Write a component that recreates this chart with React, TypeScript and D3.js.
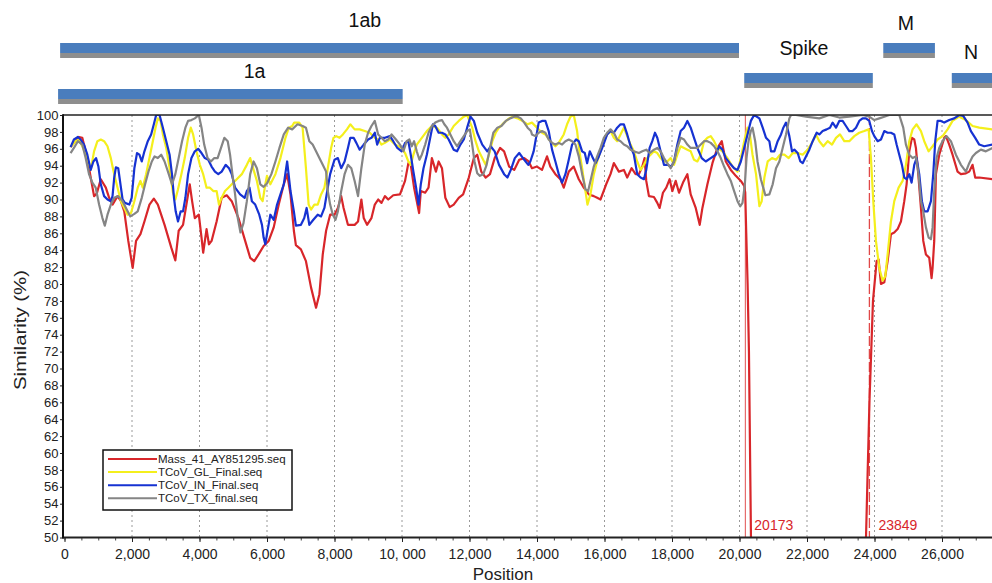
import React, { useEffect, useRef } from "react";
import * as d3 from "d3";

// similarity (%) by genome position
const mass41 = [[180,96.2],[430,97.4],[527,97.3],[677,94.9],[776,92.6],[876,90.4],[955,90.7],[1075,92.4],[1224,91.4],[1323,90.2],[1423,89.4],[1572,90.4],[1672,89.8],[1771,88.6],[1890,85.1],[2020,81.9],[2120,85.1],[2250,85.9],[2368,87.4],[2517,89.4],[2647,90.1],[2766,89.4],[2965,87.0],[3164,84.3],[3284,82.8],[3383,86.3],[3512,87.0],[3612,89.4],[3711,91.8],[3781,89.8],[3861,87.8],[3980,88.2],[4060,85.5],[4109,83.7],[4209,86.5],[4279,84.7],[4358,85.1],[4507,87.4],[4657,90.2],[4806,90.5],[4955,89.8],[5154,87.8],[5353,85.1],[5502,83.1],[5622,82.7],[5751,83.5],[5900,84.5],[6050,85.1],[6199,86.7],[6348,89.4],[6497,91.8],[6597,93.0],[6696,90.6],[6796,86.3],[6856,84.6],[7005,84.1],[7154,82.7],[7304,79.6],[7453,77.2],[7552,78.8],[7652,83.5],[7751,86.3],[7871,88.2],[8000,88.2],[8100,89.0],[8199,90.4],[8269,89.0],[8398,87.0],[8597,87.0],[8697,87.4],[8796,90.0],[8866,87.8],[8965,87.0],[9095,87.8],[9194,89.4],[9294,90.0],[9393,89.6],[9493,90.4],[9592,90.0],[9741,90.5],[9940,90.6],[10090,92.2],[10189,94.3],[10259,94.1],[10358,91.4],[10438,89.8],[10507,88.4],[10557,91.0],[10686,90.8],[10786,91.4],[10885,94.9],[11005,93.3],[11085,94.5],[11184,93.7],[11284,90.2],[11413,89.1],[11532,89.4],[11681,90.2],[11811,90.6],[11980,92.6],[12129,94.9],[12229,95.3],[12348,93.3],[12478,92.6],[12607,93.0],[12746,94.9],[12905,96.1],[13025,95.7],[13174,93.9],[13324,93.5],[13473,94.7],[13622,94.9],[13752,94.5],[13851,93.7],[14000,93.9],[14149,93.5],[14297,95.1],[14396,93.9],[14545,93.0],[14693,92.4],[14792,91.4],[14941,93.3],[15089,93.9],[15238,92.4],[15386,91.4],[15535,90.6],[15683,90.4],[15782,90.2],[15881,90.0],[16050,91.8],[16178,93.0],[16277,94.3],[16426,93.3],[16574,93.5],[16673,92.6],[16802,93.7],[16921,93.0],[17020,93.0],[17119,93.9],[17188,94.9],[17237,92.2],[17317,90.4],[17465,90.3],[17564,89.6],[17633,89.0],[17732,90.8],[17831,91.4],[17930,92.4],[18010,91.0],[18109,92.2],[18208,90.8],[18326,92.0],[18455,93.0],[18554,90.6],[18703,89.0],[18821,87.0],[18901,89.0],[19049,91.8],[19198,94.3],[19346,96.1],[19475,96.9],[19594,94.5],[19743,93.5],[19891,92.8],[20040,92.2],[20139,91.6],[20170,90.8],[20200,86.0],[20240,80.0],[20280,72.0],[20340,50.0],[20400,42.0],[23700,42.0],[23748,50.0],[23850,66.0],[23955,78.0],[24063,82.7],[24122,82.9],[24191,80.0],[24290,80.2],[24389,82.7],[24487,85.9],[24586,86.1],[24685,86.5],[24783,87.4],[24882,89.8],[24951,91.8],[25030,95.7],[25109,97.3],[25178,97.1],[25227,96.1],[25297,93.0],[25376,89.0],[25445,85.1],[25524,83.5],[25622,83.1],[25691,80.7],[25721,81.9],[25770,85.1],[25820,93.0],[25918,95.3],[26066,97.3],[26116,97.5],[26214,96.5],[26313,95.3],[26461,93.3],[26560,93.0],[26708,93.1],[26807,93.3],[26906,94.1],[26984,92.6],[27103,92.6],[27498,92.4]];

const tcovGL = [[180,96.2],[328,96.9],[428,97.1],[527,96.3],[677,94.9],[776,93.5],[876,95.7],[975,96.9],[1075,97.1],[1174,96.9],[1274,96.3],[1373,94.9],[1423,93.9],[1473,93.0],[1572,91.4],[1672,89.8],[1771,89.0],[1870,88.2],[1970,88.4],[2070,89.8],[2169,91.4],[2249,92.2],[2318,91.4],[2418,93.0],[2517,94.9],[2617,96.9],[2697,98.5],[2766,99.6],[2846,99.3],[2915,97.7],[3015,96.1],[3114,93.7],[3214,90.8],[3284,90.0],[3363,91.2],[3463,93.0],[3562,94.9],[3662,97.3],[3741,98.5],[3811,97.7],[3910,95.7],[4010,94.1],[4109,93.0],[4209,91.4],[4308,91.4],[4408,91.0],[4507,91.0],[4577,89.4],[4657,90.2],[4756,91.0],[4856,91.4],[4955,91.8],[5104,92.4],[5254,93.0],[5403,94.1],[5502,94.9],[5602,93.5],[5701,92.2],[5801,90.2],[5871,89.8],[5950,91.8],[6000,92.8],[6099,91.8],[6249,93.0],[6398,94.9],[6547,97.3],[6647,98.5],[6746,98.7],[6806,99.1],[6955,99.1],[7055,98.5],[7154,93.7],[7234,89.4],[7304,88.8],[7403,89.4],[7503,89.4],[7602,90.6],[7701,91.4],[7801,93.7],[7900,96.1],[7970,97.3],[8050,97.5],[8149,97.3],[8249,97.7],[8368,98.3],[8468,98.9],[8597,98.3],[8746,98.3],[8896,98.1],[9045,97.9],[9194,97.3],[9294,97.1],[9393,96.5],[9493,96.7],[9642,97.1],[9791,96.5],[9890,96.3],[9990,96.1],[10090,95.5],[10189,94.5],[10259,94.1],[10338,95.3],[10438,96.5],[10587,97.3],[10736,98.1],[10885,98.7],[11035,98.5],[11184,97.7],[11284,97.3],[11383,97.7],[11532,98.7],[11681,99.3],[11831,99.8],[11930,100],[12080,98.5],[12179,96.9],[12278,95.7],[12378,94.9],[12478,94.1],[12577,95.3],[12677,96.9],[12776,97.9],[12875,98.5],[13025,99.1],[13174,99.6],[13274,99.8],[13423,99.6],[13572,99.3],[13721,98.9],[13851,99.1],[14000,98.5],[14149,97.9],[14248,97.7],[14396,96.9],[14545,96.3],[14644,96.7],[14792,97.7],[14891,98.9],[14990,99.8],[15089,100],[15188,98.1],[15257,95.7],[15337,93.7],[15436,91.0],[15495,89.4],[15584,90.6],[15683,93.0],[15782,94.5],[15881,95.7],[15980,96.9],[16079,97.7],[16178,98.1],[16277,97.3],[16376,96.9],[16475,97.7],[16574,98.5],[16673,97.5],[16772,96.5],[16871,95.7],[16970,94.5],[17069,93.5],[17168,94.1],[17267,94.9],[17366,95.3],[17465,95.7],[17564,95.5],[17663,94.9],[17762,94.5],[17861,94.5],[17960,94.9],[18059,94.1],[18158,95.3],[18257,96.3],[18356,96.1],[18455,95.9],[18554,95.7],[18653,94.7],[18752,94.5],[18851,95.3],[18950,96.9],[19049,97.3],[19148,97.5],[19247,96.9],[19346,96.1],[19495,95.7],[19643,94.9],[19792,93.9],[19941,93.3],[20040,94.9],[20139,96.9],[20237,98.5],[20307,97.7],[20386,95.3],[20490,93.0],[20589,89.2],[20658,89.8],[20737,92.6],[20835,94.5],[20964,94.9],[21082,94.7],[21201,95.3],[21329,95.3],[21457,94.9],[21576,95.5],[21724,95.5],[21872,95.3],[22020,95.9],[22148,96.7],[22266,97.7],[22365,96.9],[22484,96.3],[22612,96.9],[22740,96.5],[22859,97.3],[22977,97.7],[23105,96.9],[23253,96.9],[23401,97.5],[23549,97.9],[23697,98.1],[23826,98.3],[23895,94.9],[23964,89.8],[24043,85.1],[24142,81.9],[24240,80.4],[24319,80.9],[24389,83.5],[24487,87.4],[24586,89.8],[24714,91.4],[24833,92.2],[24931,94.1],[25030,96.9],[25129,98.3],[25247,98.9],[25376,98.1],[25474,96.9],[25603,95.7],[25721,96.3],[25869,97.1],[26017,97.5],[26165,98.3],[26313,99.3],[26510,99.8],[26708,99.4],[26906,98.7],[27103,98.5],[27498,98.3]];

const tcovIN = [[180,96.2],[279,97.1],[398,97.4],[478,97.1],[577,96.5],[677,95.3],[776,93.5],[856,94.5],[935,94.9],[1005,93.9],[1075,91.8],[1174,90.4],[1274,90.0],[1373,89.8],[1423,90.4],[1473,92.6],[1522,93.8],[1592,93.7],[1672,91.4],[1721,90.0],[1791,89.6],[1920,89.4],[1990,90.2],[2070,93.7],[2149,95.5],[2219,95.3],[2289,94.5],[2368,95.7],[2468,96.9],[2567,97.7],[2647,98.9],[2716,100],[2816,100],[2915,98.5],[3015,96.9],[3114,95.3],[3184,93.0],[3244,90.2],[3294,88.6],[3363,87.4],[3443,88.6],[3512,88.6],[3582,90.2],[3662,93.0],[3761,94.9],[3861,95.7],[3960,96.0],[4060,95.5],[4159,94.9],[4259,94.7],[4358,93.9],[4458,93.3],[4557,93.0],[4657,93.3],[4776,94.1],[4875,93.7],[4955,93.0],[5055,91.4],[5204,90.6],[5338,90.2],[5403,91.0],[5482,91.4],[5552,89.8],[5651,89.4],[5771,88.2],[5851,87.0],[5900,85.5],[5950,84.7],[6000,85.9],[6099,88.2],[6199,87.6],[6298,89.4],[6398,90.6],[6497,91.8],[6597,94.5],[6696,91.0],[6796,88.6],[6856,86.9],[7005,87.0],[7104,87.8],[7174,89.0],[7254,87.0],[7373,87.6],[7503,88.2],[7602,88.0],[7701,89.0],[7801,91.4],[7871,93.0],[8000,94.7],[8100,94.9],[8199,93.7],[8299,94.5],[8398,96.1],[8468,97.3],[8567,97.3],[8647,96.7],[8746,95.9],[8866,96.5],[8995,97.1],[9095,97.3],[9194,97.9],[9264,96.5],[9343,97.3],[9493,97.3],[9642,97.5],[9741,96.9],[9861,96.1],[9990,95.7],[10090,96.7],[10189,96.9],[10259,95.3],[10338,93.3],[10418,91.4],[10488,89.4],[10557,91.8],[10637,93.7],[10736,95.3],[10836,97.3],[10915,98.9],[10985,98.7],[11085,97.9],[11184,97.9],[11284,97.7],[11383,97.1],[11532,95.9],[11632,95.7],[11731,96.5],[11831,97.1],[11930,98.5],[12030,99.8],[12129,99.3],[12229,97.9],[12378,96.5],[12527,95.7],[12627,96.3],[12746,95.7],[12875,94.1],[13025,93.0],[13124,92.6],[13224,93.5],[13343,94.9],[13473,95.5],[13622,94.7],[13741,94.1],[13802,94.5],[13901,95.7],[14050,99.1],[14149,99.3],[14248,99.3],[14347,98.1],[14446,95.9],[14545,94.5],[14644,93.0],[14743,92.0],[14842,93.0],[14941,94.7],[15040,96.5],[15158,97.1],[15238,96.9],[15337,95.7],[15416,95.5],[15485,94.3],[15564,95.7],[15634,95.1],[15733,94.3],[15832,95.1],[15950,96.3],[16079,97.7],[16178,98.1],[16277,97.9],[16376,98.5],[16475,98.9],[16574,98.9],[16673,97.7],[16772,96.3],[16871,95.3],[16970,93.0],[17069,92.6],[17168,92.4],[17237,93.5],[17337,96.1],[17416,96.9],[17495,97.9],[17564,97.3],[17663,95.7],[17762,94.1],[17861,94.1],[17980,93.9],[18059,94.5],[18158,96.5],[18257,98.1],[18356,98.5],[18455,99.3],[18554,98.5],[18653,97.3],[18752,96.1],[18881,94.9],[19000,94.5],[19148,94.9],[19297,95.3],[19396,96.3],[19495,95.9],[19594,94.9],[19713,94.3],[19841,93.7],[19941,93.5],[20040,94.5],[20139,96.1],[20237,97.7],[20336,99.3],[20435,100],[20589,99.6],[20687,98.5],[20786,97.3],[20885,96.9],[20934,95.7],[21033,95.7],[21131,96.9],[21230,97.7],[21299,98.5],[21378,99.1],[21477,97.5],[21556,95.7],[21625,95.9],[21724,95.5],[21803,94.5],[21872,94.3],[21970,95.1],[22069,95.9],[22168,96.9],[22286,97.9],[22365,97.7],[22464,98.1],[22582,98.3],[22681,98.5],[22760,99.1],[22859,98.5],[22957,99.3],[23056,99.3],[23155,98.7],[23253,98.1],[23352,98.1],[23451,98.5],[23549,99.3],[23648,99.6],[23747,99.6],[23846,99.3],[23925,98.1],[23994,97.5],[24092,96.9],[24191,97.1],[24290,98.1],[24389,97.9],[24487,97.9],[24586,97.7],[24655,96.5],[24734,95.3],[24813,94.1],[24882,92.6],[24951,92.4],[25030,93.0],[25099,92.0],[25178,94.1],[25247,94.9],[25326,93.0],[25405,89.8],[25474,88.6],[25573,88.6],[25672,89.8],[25741,93.0],[25800,96.9],[25869,99.3],[25968,99.3],[26066,99.1],[26214,99.4],[26362,99.6],[26510,100],[26629,99.9],[26757,99.1],[26856,98.1],[26984,97.3],[27103,96.5],[27251,96.3],[27498,96.5]];

const tcovTX = [[180,95.5],[279,96.1],[398,96.9],[527,96.5],[627,94.9],[726,93.0],[826,92.0],[925,91.4],[1025,89.4],[1124,87.8],[1194,86.9],[1274,88.2],[1373,89.4],[1473,90.2],[1592,90.4],[1721,89.8],[1821,89.0],[1950,88.0],[2070,88.3],[2169,88.6],[2289,90.2],[2388,91.8],[2487,93.3],[2587,94.5],[2667,95.1],[2766,94.9],[2866,95.3],[2965,94.5],[3065,93.3],[3184,91.8],[3284,93.0],[3383,94.9],[3483,96.9],[3582,98.5],[3662,99.3],[3761,99.4],[3861,99.6],[3980,100],[4060,98.5],[4139,96.5],[4239,94.9],[4338,94.5],[4438,94.9],[4537,94.9],[4637,96.1],[4736,97.3],[4836,96.9],[4905,95.3],[4975,93.0],[5055,90.6],[5134,87.8],[5214,86.1],[5303,87.2],[5403,89.8],[5502,93.0],[5602,94.5],[5701,93.7],[5801,91.8],[5900,91.5],[6000,91.9],[6129,93.0],[6249,94.5],[6368,96.1],[6497,97.7],[6627,98.5],[6746,98.3],[6905,98.9],[7055,98.7],[7154,98.5],[7254,96.9],[7353,96.5],[7453,95.7],[7552,94.9],[7652,94.1],[7751,93.3],[7801,91.0],[7871,89.4],[7950,88.2],[8030,87.6],[8100,88.6],[8199,91.0],[8299,93.0],[8398,94.1],[8498,93.7],[8597,92.2],[8697,90.4],[8796,93.7],[8896,96.5],[8995,97.9],[9095,98.7],[9194,99.3],[9294,97.7],[9393,97.3],[9493,96.9],[9592,97.1],[9692,97.7],[9821,97.1],[9940,96.5],[10040,95.7],[10139,96.9],[10219,97.1],[10289,96.3],[10358,96.9],[10438,95.7],[10517,94.7],[10587,95.3],[10686,96.5],[10786,97.9],[10885,98.7],[10985,99.1],[11085,99.3],[11184,99.4],[11254,98.9],[11333,98.5],[11433,97.7],[11532,96.9],[11632,96.3],[11731,96.9],[11831,97.5],[11930,98.1],[12010,98.3],[12080,96.5],[12149,94.5],[12229,93.1],[12308,92.8],[12408,93.0],[12507,94.1],[12607,96.1],[12706,97.9],[12826,98.5],[12945,98.7],[13075,99.3],[13204,99.6],[13324,99.8],[13423,99.8],[13522,99.6],[13622,99.1],[13721,98.5],[13821,98.1],[13851,97.7],[13950,97.5],[14050,97.9],[14149,98.1],[14248,97.9],[14347,97.1],[14446,96.7],[14545,96.5],[14644,96.7],[14743,96.5],[14842,96.9],[14941,97.1],[15040,96.9],[15139,96.5],[15238,95.1],[15337,93.0],[15436,91.2],[15515,91.0],[15584,92.2],[15683,93.9],[15782,95.1],[15881,96.1],[15980,97.3],[16079,97.9],[16178,98.3],[16277,97.9],[16376,97.1],[16475,96.9],[16574,96.5],[16673,96.3],[16772,95.9],[16871,95.7],[17020,95.5],[17119,95.7],[17237,95.9],[17337,95.5],[17465,95.9],[17564,96.1],[17663,95.7],[17762,94.9],[17861,94.3],[17960,93.7],[18059,94.5],[18158,96.1],[18257,97.3],[18356,97.1],[18455,96.5],[18554,96.1],[18653,96.1],[18752,96.1],[18851,96.5],[18950,96.9],[19049,96.9],[19148,96.7],[19247,96.3],[19346,95.7],[19445,94.9],[19544,93.9],[19643,93.0],[19743,92.2],[19841,91.0],[19941,89.8],[20020,89.2],[20089,89.6],[20159,91.8],[20208,94.9],[20267,96.9],[20336,98.1],[20386,98.5],[20465,96.9],[20534,94.5],[20633,92.4],[20703,91.4],[20766,90.5],[20885,90.6],[20983,91.8],[21082,93.7],[21181,94.5],[21279,96.1],[21378,97.7],[21477,99.6],[21527,100],[21674,100],[21970,99.8],[22365,99.6],[22661,100],[22957,99.7],[23253,99.8],[23648,100],[23846,99.8],[23994,99.4],[24142,99.6],[24290,99.8],[24438,100],[24734,100],[24852,98.5],[24931,96.5],[25030,95.3],[25129,94.9],[25227,95.1],[25306,93.0],[25376,89.8],[25445,88.6],[25524,86.7],[25603,85.5],[25672,85.3],[25721,86.7],[25770,91.0],[25839,94.9],[25918,96.1],[26017,96.9],[26135,97.5],[26264,96.9],[26412,95.3],[26560,94.1],[26708,93.3],[26807,94.3],[26906,95.1],[27004,95.5],[27152,95.9],[27300,95.7],[27498,96.1]];

const seriesNames = ["Mass_41_AY851295.seq", "TCoV_GL_Final.seq", "TCoV_IN_Final.seq", "TCoV_TX_final.seq"];
const seriesData = [mass41, tcovGL, tcovIN, tcovTX];
const seriesColors = ["#d8262a", "#f4ef1c", "#1632d2", "#858585"];

const xTicks = [0, 2000, 4000, 6000, 8000, 10000, 12000, 14000, 16000, 18000, 20000, 22000, 24000, 26000];
const xTickLabels = ["0", "2,000", "4,000", "6,000", "8,000", "10, 000", "12,000", "14,000", "16,000", "18,000", "20,000", "22,000", "24,000", "26,000"];
const yTicks = d3.range(50, 101, 2);

// recombination breakpoints
const breakpoints = [20173, 23849];

// genes above the plot (genome coordinates)
const genes = ["1ab", "1a", "Spike", "M", "N"];
const geneStart = [-130, -190, 20140, 24260, 26290];
const geneEnd = [19985, 10020, 23950, 25790, 27700];
const geneRow = [0, 2, 1, 0, 1];
const geneLabelPos = [8900, 5630, 21910, 24930, 26860];

const FONT = "'Liberation Sans', Arial, Helvetica, sans-serif";

const SimilarityPlot = () => {
  const ref = useRef(null);

  useEffect(() => {
    const W = 992;
    const H = 583;
    const left = 63;
    const top = 115;
    const bottom = 537.5;

    d3.select(ref.current).selectAll("*").remove();
    const svg = d3.select(ref.current).append("svg").attr("width", W).attr("height", H);

    const x = d3.scaleLinear().domain([0, 26000]).range([64.5, 942]);
    const y = d3.scaleLinear().domain([50, 100]).range([bottom, top]);

    // gene bars
    const rowTop = [43, 73, 89];
    const labelBase = [27, 78, 55, 30, 59];
    const bars = svg.append("g");
    genes.forEach((g, i) => {
      const x0 = x(geneStart[i]);
      const x1 = x(geneEnd[i]);
      const t = rowTop[geneRow[i]];
      bars.append("rect").attr("x", x0).attr("y", t + 10).attr("width", x1 - x0).attr("height", 5).attr("fill", "#8e8e8e");
      bars.append("rect").attr("x", x0).attr("y", t).attr("width", x1 - x0).attr("height", 10).attr("fill", "#4a7dbd");
      bars.append("text")
        .attr("x", x(geneLabelPos[i]))
        .attr("y", labelBase[i])
        .attr("text-anchor", "middle")
        .attr("font-family", FONT)
        .attr("font-size", 19.5)
        .attr("fill", "#111")
        .text(g);
    });

    // dotted grid
    svg.append("g")
      .selectAll("line")
      .data(xTicks.slice(1))
      .join("line")
      .attr("x1", (d) => x(d))
      .attr("x2", (d) => x(d))
      .attr("y1", top)
      .attr("y2", bottom)
      .attr("stroke", "#9a9a9a")
      .attr("stroke-width", 1)
      .attr("stroke-dasharray", "2,3");

    svg.append("clipPath").attr("id", "plot-clip")
      .append("rect").attr("x", left).attr("y", top).attr("width", W - left).attr("height", bottom - top);

    const plot = svg.append("g").attr("clip-path", "url(#plot-clip)");

    // breakpoint markers
    plot.append("line")
      .attr("x1", x(breakpoints[0])).attr("x2", x(breakpoints[0]))
      .attr("y1", top).attr("y2", bottom)
      .attr("stroke", "#e05050").attr("stroke-width", 1);
    plot.append("line")
      .attr("x1", x(breakpoints[1])).attr("x2", x(breakpoints[1]))
      .attr("y1", top).attr("y2", bottom)
      .attr("stroke", "#e04848").attr("stroke-width", 1.3)
      .attr("stroke-dasharray", "10,3");

    const line = d3.line().x((d) => x(d[0])).y((d) => y(d[1]));
    seriesData.forEach((s, i) => {
      plot.append("path")
        .datum(s)
        .attr("fill", "none")
        .attr("stroke", seriesColors[i])
        .attr("stroke-width", 2.2)
        .attr("stroke-linejoin", "round")
        .attr("d", line);
    });

    svg.append("g")
      .selectAll("text")
      .data(breakpoints)
      .join("text")
      .attr("x", (d) => x(d) + 9)
      .attr("y", 530)
      .attr("font-family", FONT)
      .attr("font-size", 14)
      .attr("fill", "#d8262a")
      .text((d) => d);

    // axes
    const yAxis = svg.append("g")
      .attr("transform", `translate(${left},0)`)
      .call(d3.axisLeft(y).tickValues(yTicks).tickSize(3).tickPadding(1.5).tickFormat(d3.format("d")));
    yAxis.select(".domain").remove();
    yAxis.selectAll("line").attr("stroke", "#222");
    yAxis.selectAll("text").attr("font-family", FONT).attr("font-size", 13).attr("fill", "#222");

    const xMinor = svg.append("g")
      .attr("transform", `translate(0,${bottom})`)
      .call(d3.axisBottom(x).tickValues(d3.range(0, 27501, 500)).tickSize(3).tickFormat(() => ""));
    xMinor.select(".domain").remove();
    xMinor.selectAll("line").attr("stroke", "#444");

    const xAxis = svg.append("g")
      .attr("transform", `translate(0,${bottom})`)
      .call(d3.axisBottom(x).tickValues(xTicks).tickSize(4.5).tickPadding(7).tickFormat((d, i) => xTickLabels[i]));
    xAxis.select(".domain").remove();
    xAxis.selectAll("line").attr("stroke", "#222");
    xAxis.selectAll("text").attr("font-family", FONT).attr("font-size", 14).attr("fill", "#222");

    // frame
    svg.append("line").attr("x1", left).attr("x2", W).attr("y1", top).attr("y2", top).attr("stroke", "#222").attr("stroke-width", 1.4);
    svg.append("line").attr("x1", left).attr("x2", W).attr("y1", bottom).attr("y2", bottom).attr("stroke", "#222").attr("stroke-width", 2);
    svg.append("line").attr("x1", left).attr("x2", left).attr("y1", top - 0.7).attr("y2", bottom + 1).attr("stroke", "#111").attr("stroke-width", 2);

    svg.append("text")
      .attr("x", 503).attr("y", 580)
      .attr("text-anchor", "middle")
      .attr("font-family", FONT).attr("font-size", 17).attr("fill", "#222")
      .text("Position");
    svg.append("text")
      .attr("transform", "translate(26,330) rotate(-90)")
      .attr("text-anchor", "middle")
      .attr("font-family", FONT).attr("font-size", 16.5).attr("fill", "#222")
      .attr("textLength", 120).attr("lengthAdjust", "spacingAndGlyphs")
      .text("Similarity (%)");

    // legend
    const legend = svg.append("g");
    legend.append("rect")
      .attr("x", 103).attr("y", 450).attr("width", 189).attr("height", 60)
      .attr("fill", "white").attr("stroke", "#111").attr("stroke-width", 1.5);
    seriesNames.forEach((name, i) => {
      const cy = 459 + i * 13.1;
      legend.append("line")
        .attr("x1", 108).attr("x2", 157).attr("y1", cy).attr("y2", cy)
        .attr("stroke", seriesColors[i]).attr("stroke-width", 2);
      legend.append("text")
        .attr("x", 158).attr("y", cy + 4)
        .attr("font-family", FONT).attr("font-size", 11.5).attr("fill", "#222")
        .text(name);
    });
  }, []);

  return <div ref={ref} style={{ position: "absolute", left: 0, top: 0, width: 992, height: 583 }} />;
};

export default function App() {
  return <SimilarityPlot />;
}
